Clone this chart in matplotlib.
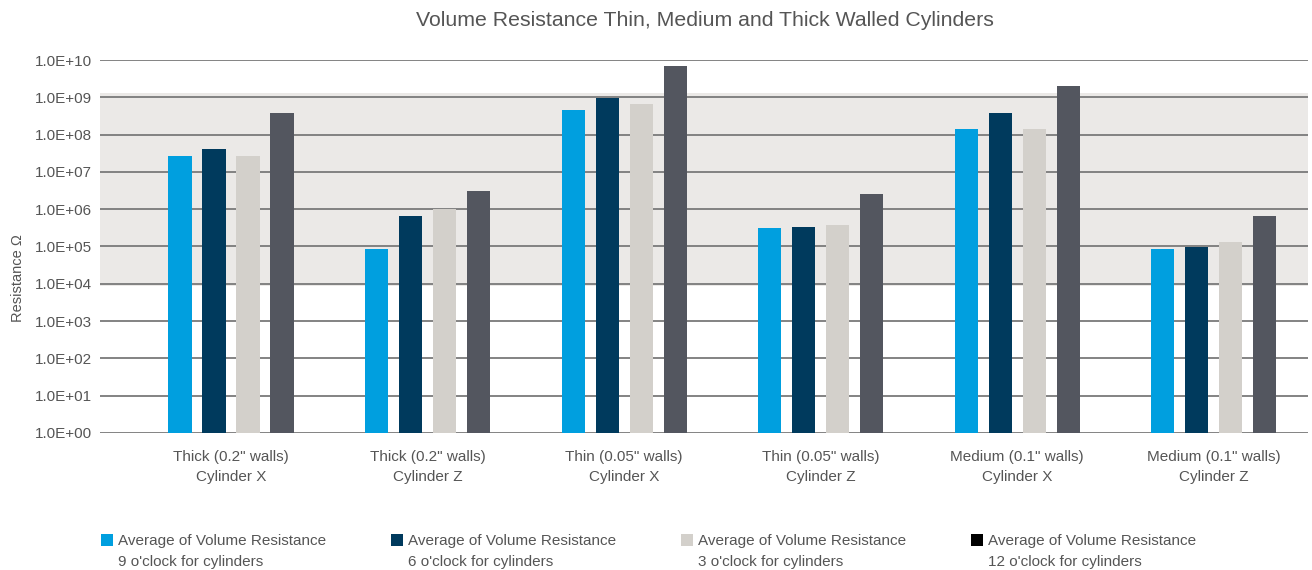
import numpy as np
import matplotlib
matplotlib.use('Agg')
import matplotlib.pyplot as plt
from matplotlib.patches import Rectangle

plt.rcParams['font.family'] = ['Liberation Sans', 'DejaVu Sans']

# categories and the four series (log scale)
categories = ['Thick (0.2" walls)\nCylinder X', 'Thick (0.2" walls)\nCylinder Z',
              'Thin (0.05" walls)\nCylinder X', 'Thin (0.05" walls)\nCylinder Z',
              'Medium (0.1" walls)\nCylinder X', 'Medium (0.1" walls)\nCylinder Z']
series_names = ['Average of Volume Resistance\n9 o\'clock for cylinders',
                'Average of Volume Resistance\n6 o\'clock for cylinders',
                'Average of Volume Resistance\n3 o\'clock for cylinders',
                'Average of Volume Resistance\n12 o\'clock for cylinders']
nine_oclock = [2.7e7, 8.6e4, 4.6e8, 3.1e5, 1.4e8, 8.6e4]
six_oclock = [4.1e7, 6.6e5, 9.5e8, 3.3e5, 3.8e8, 9.7e4]
three_oclock = [2.7e7, 1.0e6, 6.6e8, 3.8e5, 1.4e8, 1.3e5]
twelve_oclock = [3.8e8, 3.1e6, 6.9e9, 2.6e6, 2.0e9, 6.6e5]
series = [nine_oclock, six_oclock, three_oclock, twelve_oclock]

bar_colors = ['#009fdf', '#003a5d', '#d3d0cb', '#53565f']
legend_colors = ['#009fdf', '#003a5d', '#d3d0cb', '#000000']
txt = '#555555'

W, H = 1312, 570
fig = plt.figure(figsize=(W / 100, H / 100), dpi=100)
ax = fig.add_axes([0.0762, 0.2404, 0.9208, 0.6543])

ax.set_yscale('log')
ax.set_ylim(1, 1e10)
ax.set_xlim(-0.667, 5.48)

# shaded "acceptable" band
ax.axhspan(8.5e3, 1.3e9, color='#ebe9e7', zorder=0, lw=0)

for p in range(11):
    ax.axhline(10 ** p, color='#7a7a7a', lw=1.3, zorder=1)

x = np.arange(len(categories))
width = 0.118
step = 0.173
for i, vals in enumerate(series):
    ax.bar(x + (i - 1.5) * step, vals, width=width, bottom=1,
           color=bar_colors[i], zorder=2, lw=0)

ax.set_yticks([10 ** p for p in range(11)])
ax.set_yticklabels(['1.0E+%02d' % p for p in range(11)])
ax.minorticks_off()
ax.set_xticks(x)
ax.set_xticklabels(categories, linespacing=1.6)
ax.tick_params(axis='y', length=0, pad=6, labelsize=11, labelcolor=txt)
ax.tick_params(axis='x', length=0, pad=12, labelsize=11, labelcolor=txt)
for s in ax.spines.values():
    s.set_visible(False)

fig.text(705 / W, 1 - 20 / H, 'Volume Resistance Thin, Medium and Thick Walled Cylinders',
         ha='center', va='center', fontsize=15.3, color=txt)
fig.text(18 / W, 1 - 278 / H, 'Resistance \u03a9', rotation=90, ha='center', va='center',
         fontsize=10.5, color=txt)

# legend, laid out by hand to match the spacing of the reference
for i, (name, c) in enumerate(zip(series_names, legend_colors)):
    x0 = 101 + i * 290
    fig.add_artist(Rectangle((x0 / W, 1 - 546 / H), 12 / W, 12 / H,
                             transform=fig.transFigure, color=c, lw=0))
    line1, line2 = name.split('\n')
    fig.text((x0 + 17) / W, 1 - 541 / H, line1, ha='left', va='center',
             fontsize=11, color=txt)
    fig.text((x0 + 17) / W, 1 - 562 / H, line2, ha='left', va='center',
             fontsize=11, color=txt)

fig.savefig('out.png', dpi=100)
